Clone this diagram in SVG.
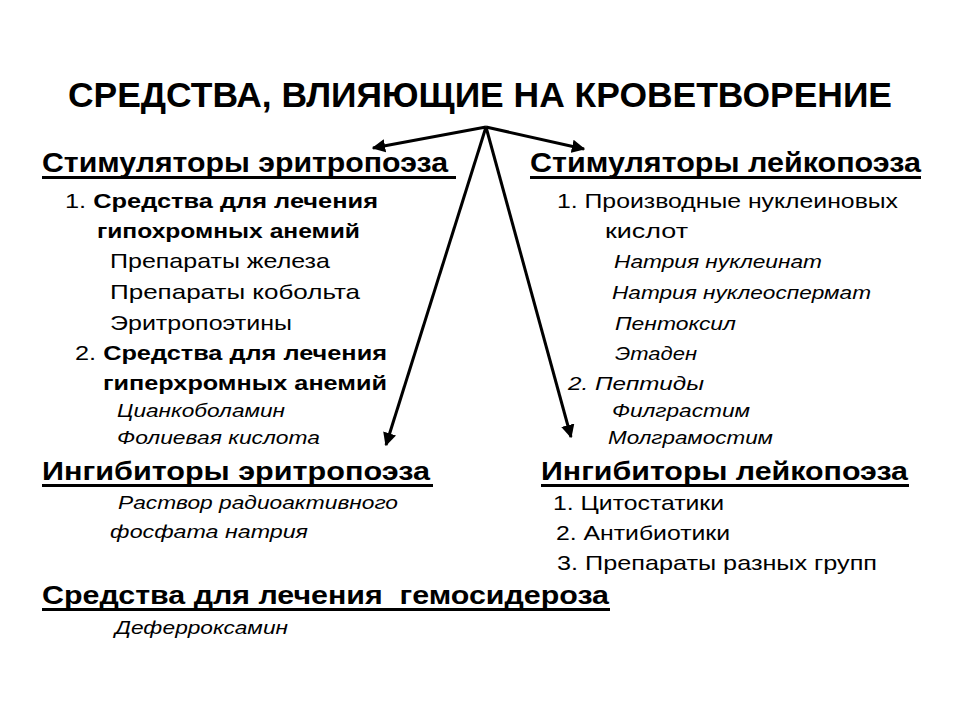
<svg xmlns="http://www.w3.org/2000/svg" width="960" height="720" viewBox="0 0 960 720">
<style>
text{font-family:"Liberation Sans",Arial,sans-serif;fill:#000}
.t{font-size:35px;font-weight:bold}
.h{font-size:27.5px;font-weight:bold}
.h2{font-size:25.5px;font-weight:bold}
.r{font-size:21px}
.b{font-weight:bold}
.i{font-size:19px;font-style:italic}
.ul{stroke:#000;stroke-width:3}
.c{stroke:#000;stroke-width:3;fill:none}
</style>
<defs>
<marker id="ah" viewBox="0 0 10 10" refX="9" refY="5" markerWidth="4.5" markerHeight="4.5" orient="auto" markerUnits="strokeWidth">
<path d="M0,0 L10,5 L0,10 z" fill="#000"/>
</marker>
</defs>
<rect width="960" height="720" fill="#fff"/>
<g id="title"><text class="t" x="68" y="107" textLength="824" lengthAdjust="spacingAndGlyphs">СРЕДСТВА, ВЛИЯЮЩИЕ НА КРОВЕТВОРЕНИЕ</text></g>
<g id="connectors">
<line class="c" x1="486" y1="127" x2="373" y2="148" marker-end="url(#ah)"/>
<line class="c" x1="486" y1="127" x2="584" y2="149" marker-end="url(#ah)"/>
<line class="c" x1="486" y1="127" x2="386" y2="445" marker-end="url(#ah)"/>
<line class="c" x1="486" y1="127" x2="571" y2="437" marker-end="url(#ah)"/>
</g>
<g id="stim-eritro">
<text class="h" x="42" y="172" textLength="406" lengthAdjust="spacingAndGlyphs">Стимуляторы эритропоэза</text>
<line class="ul" x1="42" y1="177.5" x2="456" y2="177.5"/>
<text class="r" x="65" y="208" textLength="313" lengthAdjust="spacingAndGlyphs">1. <tspan class="b">Средства для лечения</tspan></text>
<text class="r b" x="97" y="238" textLength="263" lengthAdjust="spacingAndGlyphs">гипохромных анемий</text>
<text class="r" x="110" y="268" textLength="220" lengthAdjust="spacingAndGlyphs">Препараты железа</text>
<text class="r" x="110" y="299" textLength="250" lengthAdjust="spacingAndGlyphs">Препараты кобольта</text>
<text class="r" x="110" y="330" textLength="182" lengthAdjust="spacingAndGlyphs">Эритропоэтины</text>
<text class="r" x="75" y="360" textLength="312" lengthAdjust="spacingAndGlyphs">2. <tspan class="b">Средства для лечения</tspan></text>
<text class="r b" x="103" y="390" textLength="284" lengthAdjust="spacingAndGlyphs">гиперхромных анемий</text>
<text class="i" x="117" y="417" textLength="168" lengthAdjust="spacingAndGlyphs">Цианкоболамин</text>
<text class="i" x="117" y="444" textLength="203" lengthAdjust="spacingAndGlyphs">Фолиевая кислота</text>
</g>
<g id="stim-leiko">
<text class="h" x="530" y="172" textLength="391" lengthAdjust="spacingAndGlyphs">Стимуляторы лейкопоэза</text>
<line class="ul" x1="530" y1="177.5" x2="921" y2="177.5"/>
<text class="r" x="557" y="208" textLength="341" lengthAdjust="spacingAndGlyphs">1. Производные нуклеиновых</text>
<text class="r" x="605" y="238" textLength="83" lengthAdjust="spacingAndGlyphs">кислот</text>
<text class="i" x="614" y="268" textLength="208" lengthAdjust="spacingAndGlyphs">Натрия нуклеинат</text>
<text class="i" x="612" y="299" textLength="259" lengthAdjust="spacingAndGlyphs">Натрия нуклеоспермат</text>
<text class="i" x="615" y="330" textLength="121" lengthAdjust="spacingAndGlyphs">Пентоксил</text>
<text class="i" x="615" y="360" textLength="82" lengthAdjust="spacingAndGlyphs">Этаден</text>
<text class="i" x="568" y="390" font-size="21" textLength="136" lengthAdjust="spacingAndGlyphs">2. Пептиды</text>
<text class="i" x="612" y="417" textLength="138" lengthAdjust="spacingAndGlyphs">Филграстим</text>
<text class="i" x="608" y="444" textLength="165" lengthAdjust="spacingAndGlyphs">Молграмостим</text>
</g>
<g id="ingib-eritro">
<text class="h2" x="42" y="480" textLength="388" lengthAdjust="spacingAndGlyphs">Ингибиторы эритропоэза</text>
<line class="ul" x1="42" y1="485.5" x2="433" y2="485.5"/>
<text class="i" x="118" y="509" textLength="280" lengthAdjust="spacingAndGlyphs">Раствор радиоактивного</text>
<text class="i" x="110" y="538" textLength="198" lengthAdjust="spacingAndGlyphs">фосфата натрия</text>
</g>
<g id="ingib-leiko">
<text class="h2" x="541" y="480" textLength="367" lengthAdjust="spacingAndGlyphs">Ингибиторы лейкопоэза</text>
<line class="ul" x1="541" y1="485.5" x2="909" y2="485.5"/>
<text class="r" x="553" y="510" textLength="171" lengthAdjust="spacingAndGlyphs">1. Цитостатики</text>
<text class="r" x="556" y="540" textLength="174" lengthAdjust="spacingAndGlyphs">2. Антибиотики</text>
<text class="r" x="557" y="570" textLength="320" lengthAdjust="spacingAndGlyphs">3. Препараты разных групп</text>
</g>
<g id="gemosideroz">
<text class="h2" x="42" y="604" xml:space="preserve" textLength="567" lengthAdjust="spacingAndGlyphs">Средства для лечения  гемосидероза</text>
<line class="ul" x1="42" y1="609.5" x2="610" y2="609.5"/>
<text class="i" x="115" y="634" textLength="173" lengthAdjust="spacingAndGlyphs">Деферроксамин</text>
</g>
</svg>
